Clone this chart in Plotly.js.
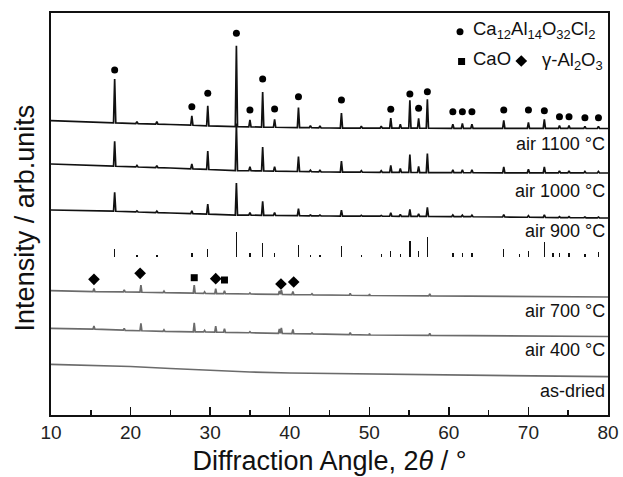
<!DOCTYPE html>
<html>
<head>
<meta charset="utf-8">
<script src="https://cdn.plot.ly/plotly-3.0.1.min.js"></script>
<style>html,body{margin:0;padding:0;background:#fff;}#chart{width:623px;height:477px;}</style>
</head>
<body>
<div id="chart"></div>
<script>
// ---- data (2theta in degrees, intensity in arbitrary stacked units) ----
const tickLabels = ["10","20","30","40","50","60","70","80"];
const tickValues = [10,20,30,40,50,60,70,80];

// air 1100 C
const k1100X = [10,17,25,33,45,60,80];
const k1100Y = [294.3,292.3,290.5,288.3,287,286.7,286.5];
const p1100X = [18.0,20.8,23.3,27.7,29.7,33.3,35.0,36.6,38.1,41.1,42.6,43.8,46.5,49.0,51.5,52.7,53.9,55.1,56.2,57.3,60.5,61.7,62.9,66.9,70.0,72.0,73.9,75.1,77.1,78.8];
const p1100H = [44,2,2.5,9.5,20,81,7,35,8,20,2,2,15,2,2,10,4,28,10,29,4,5,4,8,6,9,3,3,2,2];

// air 1000 C
const k1000X = [10,17,25,33,45,60,80];
const k1000Y = [251,249,247,244.5,243,242.3,242];
const p1000X = p1100X;
const p1000H = [25,1.5,2,5,18.5,47,4,24,4.5,15,1.5,1.5,11,1.5,1.5,7,4,18,6,19,3,3,3,6,3.5,6,2,2,1.5,1.5];

// air 900 C
const k900X = [10,17,25,33,45,60,80];
const k900Y = [205,204,202,200,199,198.5,197];
const p900X = p1100X;
const p900H = [19,1,1.5,3,10,32,2.5,14,3,7,0.8,0.8,6,0.8,0.8,3.5,2,7,2.5,9,1.5,1.5,1.5,2.5,1.5,2.5,1,1,0.8,0.8];

// reference pattern (sticks)
const refBase = 158.3;
const refX = [18.0,20.8,23.3,27.7,29.7,33.3,35.0,36.6,38.1,41.1,42.6,43.8,46.5,49.0,51.5,52.7,53.9,55.1,56.2,57.3,60.5,61.7,62.9,66.9,68.9,70.0,72.0,73.1,73.9,75.1,77.1,78.8];
const refH = [7.3,1.5,1.5,4,7.7,25,4,14,4,11.7,2,2,10.5,2,2.5,5.3,3,15.3,5.3,19.3,4,4,4,7.7,3,6,14.3,4,4,4,3,5];

// air 700 C
const k700X = [10,15,20,25,30,40,50,60,80];
const k700Y = [124.3,123.5,123,122.2,121.5,120.5,119.5,119,118];
const p700X = [15.4,19.2,21.3,24.2,28.0,29.3,30.7,31.8,35.0,38.7,38.95,40.4,42.8,47.6,50.0,57.6];
const p700H = [3,2,7,1.5,8,1.5,5,3,1,3.5,4.5,3,1,2,1.5,2];

// air 400 C
const k400X = [10,15,20,25,30,40,50,60,80];
const k400Y = [86.7,86,84.5,83.5,83,81.5,80,79.5,78.5];
const p400X = p700X;
const p400H = [3,2,7.5,1.5,9,1.5,6,3.5,1,4.5,5.5,4,1,2,1.5,2];

// as-dried
const kDryX = [10,15,20,25,30,35,40,50,60,70,80];
const kDryY = [50.7,49.5,48.5,46.5,44.5,43,42,41,40,39,38.3];

// phase markers
const mayX = [18.0,27.7,29.7,33.3,35.0,36.6,38.1,41.1,46.5,52.7,55.1,56.2,57.3,60.5,61.7,62.9,66.9,70.0,72.0,73.9,75.1,77.1,78.8];
const mayY = [345,308.3,321.7,381.7,305,336,306,318.3,315,305.7,321,306.7,323.3,303.3,303.3,303.3,305,305,304.3,298.3,298.3,297.3,297.3];
const caoX = [28.0,31.8];
const caoY = [137.3,135];
const aloX = [15.4,21.2,30.7,38.9,40.5];
const aloY = [135.7,141.7,136.3,131,133];

// sample labels
const labelText = ["air 1100 °C","air 1000 °C","air 900 °C","air 700 °C","air 400 °C","as-dried"];
const labelY = [271,224,184,104,65.5,24];

// ---- build line vertices from baseline knots and peaks ----
function baseAt(kx, ky, a){
  for(let i=0;i<kx.length-1;i++){
    if(a>=kx[i] && a<=kx[i+1]){
      const t=(a-kx[i])/(kx[i+1]-kx[i]);
      return ky[i]+t*(ky[i+1]-ky[i]);
    }
  }
  return a<kx[0]?ky[0]:ky[ky.length-1];
}
function pattern(kx, ky, px, ph, w){
  const pts=[];
  for(let i=0;i<kx.length;i++) pts.push([kx[i],ky[i]]);
  if(px){
    for(let i=0;i<px.length;i++){
      const b=baseAt(kx,ky,px[i]);
      pts.push([px[i]-w,baseAt(kx,ky,px[i]-w)]);
      pts.push([px[i],b+ph[i]]);
      pts.push([px[i]+w,baseAt(kx,ky,px[i]+w)]);
    }
  }
  pts.sort((a,b)=>a[0]-b[0]);
  return {x:pts.map(p=>p[0]), y:pts.map(p=>p[1])};
}

const black='#111111', gray='#6b6b6b';
const traces=[];
function addLine(d,color,wd){
  traces.push({type:'scatter',mode:'lines',x:d.x,y:d.y,line:{color:color,width:wd},hoverinfo:'skip',showlegend:false});
}
addLine(pattern(k1100X,k1100Y,p1100X,p1100H,0.14),black,1.7);
addLine(pattern(k1000X,k1000Y,p1000X,p1000H,0.14),black,1.7);
addLine(pattern(k900X,k900Y,p900X,p900H,0.14),black,1.7);
addLine(pattern(k700X,k700Y,p700X,p700H,0.12),gray,1.7);
addLine(pattern(k400X,k400Y,p400X,p400H,0.12),gray,1.7);
addLine(pattern(kDryX,kDryY,null,null,0),gray,1.7);

// reference sticks
traces.push({type:'bar',x:refX,y:refH,base:refBase,width:0.17,marker:{color:black,line:{width:0}},hoverinfo:'skip',showlegend:false});

// markers
traces.push({type:'scatter',mode:'markers',x:mayX,y:mayY,marker:{symbol:'circle',size:7,color:'#000'},hoverinfo:'skip',showlegend:false});
traces.push({type:'scatter',mode:'markers',x:caoX,y:caoY,marker:{symbol:'square',size:7,color:'#000'},hoverinfo:'skip',showlegend:false});
traces.push({type:'scatter',mode:'markers',x:aloX,y:aloY,marker:{symbol:'diamond',size:9,color:'#000'},hoverinfo:'skip',showlegend:false});

// legend key markers
traces.push({type:'scatter',mode:'markers',x:[61.4],y:[383.3],marker:{symbol:'circle',size:7,color:'#000'},hoverinfo:'skip',showlegend:false});
traces.push({type:'scatter',mode:'markers',x:[61.6],y:[353.5],marker:{symbol:'square',size:7,color:'#000'},hoverinfo:'skip',showlegend:false});
traces.push({type:'scatter',mode:'markers',x:[69.1],y:[354],marker:{symbol:'diamond',size:9,color:'#000'},hoverinfo:'skip',showlegend:false});

const fontFam='Liberation Sans, Arial, sans-serif';
const annotations=[];
for(let i=0;i<labelText.length;i++){
  annotations.push({x:79.75,y:labelY[i],xref:'x',yref:'y',xanchor:'right',yanchor:'middle',showarrow:false,
    text:labelText[i],font:{family:fontFam,size:18,color:'#111'},borderpad:0});
}
annotations.push({x:62.85,y:385,xref:'x',yref:'y',xanchor:'left',yanchor:'middle',showarrow:false,borderpad:0,
  text:'Ca<sub>12</sub>Al<sub>14</sub>O<sub>32</sub>Cl<sub>2</sub>',font:{family:fontFam,size:18.5,color:'#111'}});
annotations.push({x:62.85,y:356.5,xref:'x',yref:'y',xanchor:'left',yanchor:'middle',showarrow:false,borderpad:0,
  text:'CaO',font:{family:fontFam,size:18.5,color:'#111'}});
annotations.push({x:71.55,y:354.5,xref:'x',yref:'y',xanchor:'left',yanchor:'middle',showarrow:false,borderpad:0,
  text:'γ-Al<sub>2</sub>O<sub>3</sub>',font:{family:fontFam,size:18.5,color:'#111'}});
// y axis title
annotations.push({x:-0.046,y:0.49,xref:'paper',yref:'paper',xanchor:'center',yanchor:'middle',showarrow:false,
  textangle:-90,text:'Intensity / arb.units',font:{family:fontFam,size:27,color:'#111'}});

const layout={
  width:623,height:477,
  margin:{l:51,r:15,t:13,b:62,pad:0},
  paper_bgcolor:'#fff',plot_bgcolor:'#fff',
  showlegend:false,
  bargap:0,
  xaxis:{range:[10,80],tickvals:tickValues,ticktext:tickLabels,ticks:'inside',ticklen:8,tickwidth:1.5,tickcolor:'#111',
    minor:{dtick:5,ticks:'inside',ticklen:5,tickwidth:1.5,tickcolor:'#111'},
    showline:true,mirror:true,linecolor:'#111',linewidth:1.6,showgrid:false,zeroline:false,
    tickfont:{family:fontFam,size:19,color:'#222'},
    title:{text:'Diffraction Angle, 2<i>θ</i> / °',font:{family:fontFam,size:27,color:'#111'},standoff:8}},
  yaxis:{range:[0,402],showticklabels:false,ticks:'',showline:true,mirror:true,linecolor:'#111',linewidth:1.6,
    showgrid:false,zeroline:false},
  annotations:annotations
};
Plotly.newPlot('chart',traces,layout,{staticPlot:true,displayModeBar:false});
</script>
</body>
</html>
